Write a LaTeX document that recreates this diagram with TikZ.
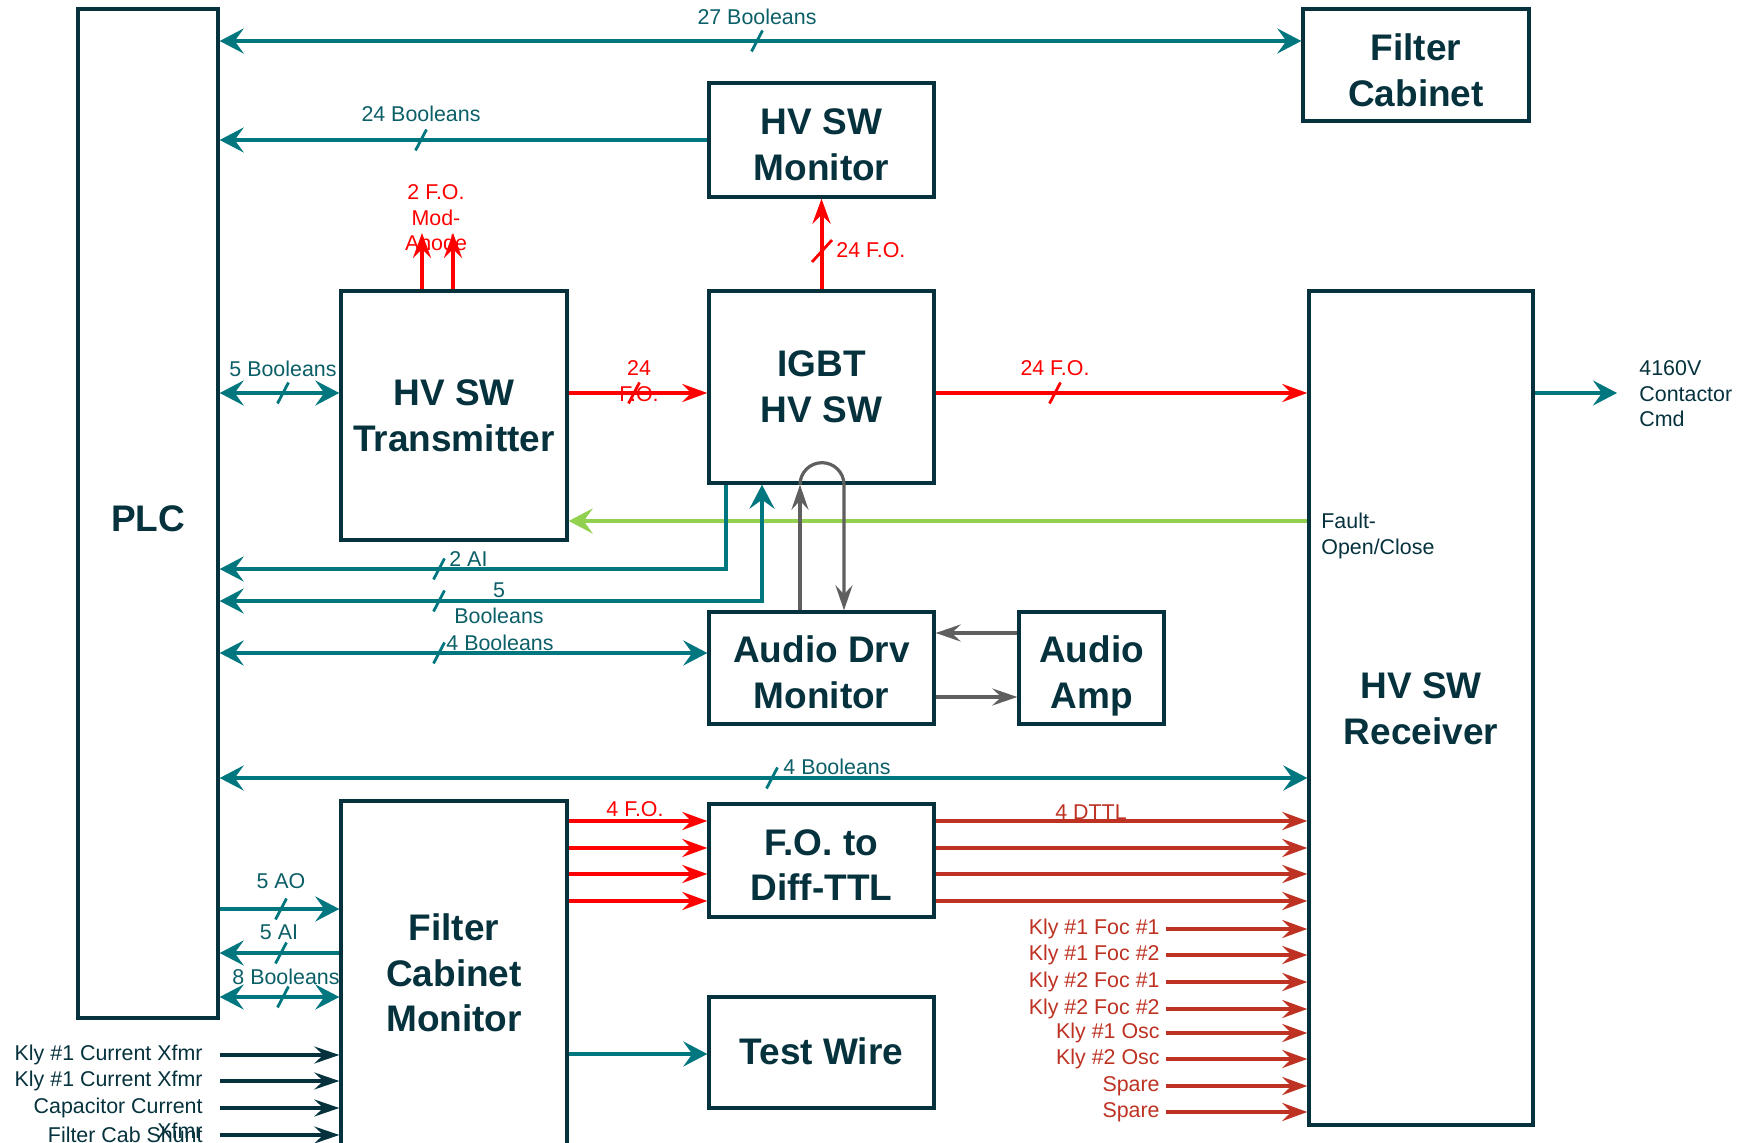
\documentclass[tikz,border=0pt]{standalone}
\usepackage{fontspec}
\setmainfont{Liberation Sans}
\usetikzlibrary{arrows.meta,calc}
\definecolor{navy}{HTML}{06323D}
\definecolor{tealc}{HTML}{00777F}
\definecolor{tealtxt}{HTML}{0B5F67}
\definecolor{fored}{HTML}{FF0000}
\definecolor{dred}{HTML}{BE3223}
\definecolor{lgreen}{HTML}{92D050}
\definecolor{greyc}{HTML}{5F5F5F}
\begin{document}
\begin{tikzpicture}[x=0.5pt,y=-0.5pt,
  box/.style={draw=navy, line width=1.7pt, inner sep=0pt},
  ttl/.style={text=navy, font=\bfseries\fontsize{18.5}{22.8}\selectfont, align=center, inner sep=0pt},
  lbl/.style={font=\fontsize{10.7}{12.8}\selectfont, inner sep=0pt, align=center},
  tl/.style={lbl, text=tealtxt},
  rl/.style={lbl, text=fored},
  dl/.style={lbl, text=dred},
  nl/.style={lbl, text=navy},
  ttip/.tip={Stealth[length=12pt,width=12.5pt,inset=4.5pt]},
  tline/.style={draw=tealc, line width=1.6pt},
  tarr/.style={tline, -ttip},
  tboth/.style={tline, ttip-ttip},
  rarr/.style={draw=fored, line width=2pt, -{Stealth[length=12.5pt,width=9pt,inset=4.5pt]}},
  darr/.style={draw=dred, line width=1.9pt, -{Stealth[length=12.5pt,width=9pt,inset=4.5pt]}},
  garr/.style={draw=greyc, line width=1.6pt, -{Stealth[length=12.5pt,width=8.5pt,inset=4.5pt]}},
  narr/.style={draw=navy, line width=1.6pt, -{Stealth[length=12.5pt,width=8.5pt,inset=4.5pt]}},
  grarr/.style={draw=lgreen, line width=1.7pt, -{Stealth[length=12pt,width=12.5pt,inset=4.5pt]}},
  slashT/.style={draw=tealc, line width=1.4pt},
  slashR/.style={draw=fored, line width=1.4pt}
]
\useasboundingbox (0,0) rectangle (1742,1143);
\clip (0,0) rectangle (1742,1143);
\fill[white] (0,0) rectangle (1742,1143);

% ---------- boxes ----------
\node[box, minimum width=70pt, minimum height=504.5pt] (plc) at (148,513.5) {};
\node[box, minimum width=113pt, minimum height=56pt] (fcab) at (1416,65) {};
\node[box, minimum width=112.5pt, minimum height=57pt] (hvmon) at (821.5,140) {};
\node[box, minimum width=113pt, minimum height=124.5pt] (tx) at (454,415.5) {};
\node[box, minimum width=112.5pt, minimum height=96pt] (igbt) at (821.5,387) {};
\node[box, minimum width=112pt, minimum height=417pt] (rx) at (1421,708) {};
\node[box, minimum width=112.5pt, minimum height=56pt] (adm) at (821.5,668) {};
\node[box, minimum width=72.5pt, minimum height=56pt] (amp) at (1091.5,668) {};
\node[box, minimum width=112.5pt, minimum height=56.5pt] (fo) at (821.5,860.5) {};
\node[box, minimum width=112.5pt, minimum height=55.5pt] (tw) at (821.5,1052.5) {};
\node[box, minimum width=113pt, minimum height=175pt] (fcm) at (454,976) {};

% ---------- box titles ----------
\node[ttl] (plct) at ($(plc)+(0,5.5)$) {PLC};
\node[ttl] (fcabt) at ($(fcab)+(0,5)$) {Filter\\Cabinet};
\node[ttl] (hvmont) at ($(hvmon)+(0,4.5)$) {HV SW\\Monitor};
\node[ttl] (txt) at ($(tx)+(0,0)$) {HV SW\\Transmitter};
\node[ttl] (igbtt) at ($(igbt)+(0,0)$) {IGBT\\HV SW};
\node[ttl] (rxt) at ($(rx)+(0,1)$) {HV SW\\Receiver};
\node[ttl] (admt) at ($(adm)+(0,4.5)$) {Audio Drv\\Monitor};
\node[ttl] (ampt) at ($(amp)+(0,8)$) {Audio\\Amp};
\node[ttl] (fot) at ($(fo)+(0,4.5)$) {F.O. to\\Diff-TTL};
\node[ttl] (twt) at ($(tw)+(0,-1)$) {Test Wire};
\node[ttl] (fcmt) at ($(fcm)+(0,-3)$) {Filter\\Cabinet\\Monitor};

% ---------- helper coordinates ----------
\coordinate (Y41) at (0,41);
\coordinate (Y393) at (0,393);
\coordinate (Y521) at (0,521);
\coordinate (Y569) at (0,569);
\coordinate (Y601) at (0,601);
\coordinate (Y653) at (0,653);
\coordinate (Y633) at (0,633);
\coordinate (Y697) at (0,697);
\coordinate (Y778) at (0,778);
\coordinate (Y909) at (0,909);
\coordinate (Y953) at (0,953);
\coordinate (Y997) at (0,997);
\coordinate (Y1054) at (0,1054);
\coordinate (X726) at (726,0);
\coordinate (X762) at (762,0);
\coordinate (X800) at (800,0);
\coordinate (X844) at (844,0);
\coordinate (m1) at (422,233);
\coordinate (m2) at (453,233);
\coordinate (c4160) at (1617,393);

% ---------- labels ----------
\node[tl] (l27) at (757,17) {27 Booleans};
\node[tl] (l24b) at (421,114) {24 Booleans};
\node[rl] (lmod) at (436,218) {2 F.O.\\Mod-\\Anode};
\node[rl, anchor=west] (l24v) at (836,250) {24 F.O.};
\node[tl] (l5tx) at (283,369) {5 Booleans};
\node[rl] (l24tx) at (639,381) {24\\F.O.};
\node[rl] (l24rx) at (1055,368) {24 F.O.};
\node[nl, anchor=west, align=left] (l4160) at (1639,394) {4160V\\Contactor\\Cmd};
\node[nl, anchor=west, align=left] (lfault) at (1321,536) {Fault-\\Open/Close};
\node[tl, anchor=west] (l2ai) at (449,559) {2 AI};
\node[tl] (l5b) at (499,603) {5\\Booleans};
\node[tl] (l4b) at (500,643) {4 Booleans};
\node[tl] (l4b2) at (837,767) {4 Booleans};
\node[rl] (l4fo) at (635,809) {4 F.O.};
\node[dl] (l4dttl) at (1091,812) {4 DTTL};
\node[tl] (l5ao) at (281,881) {5 AO};
\node[tl] (l5ai) at (279,932) {5 AI};
\node[tl] (l8b) at (286,977) {8 Booleans};

% ---------- connectors ----------
\draw[grarr] (rx.west |- Y521) -- (tx.east |- Y521);

\draw[tboth] (plc.east |- Y41) -- (fcab.west |- Y41);
\draw[slashT] (757,41) ++(-5.5,10.5) -- ++(11,-21);

\draw[tarr] (hvmon.west) -- (hvmon.west -| plc.east);
\draw[slashT] (421,140) ++(-5.5,10.5) -- ++(11,-21);

\draw[rarr] (tx.north -| m1) -- (m1);
\draw[rarr] (tx.north -| m2) -- (m2);

\draw[rarr] (igbt.north) -- (hvmon.south);
\draw[slashR] (822,251) ++(-10,11) -- ++(20,-22);

\draw[tboth] (plc.east |- Y393) -- (tx.west |- Y393);
\draw[slashT] (283,393) ++(-5.5,10.5) -- ++(11,-21);

\draw[rarr] (tx.east |- Y393) -- (igbt.west |- Y393);
\draw[slashR] (634,393) ++(-5.5,10.5) -- ++(11,-21);

\draw[rarr] (igbt.east |- Y393) -- (rx.west |- Y393);
\draw[slashR] (1055,393) ++(-5.5,10.5) -- ++(11,-21);

\draw[tarr] (rx.east |- Y393) -- (c4160);

\draw[tarr] (igbt.south -| X726) |- (plc.east |- Y569);
\draw[slashT] (439,569) ++(-5.5,10.5) -- ++(11,-21);

\draw[tboth] (plc.east |- Y601) -| (igbt.south -| X762);
\draw[slashT] (439,601) ++(-5.5,10.5) -- ++(11,-21);

\draw[tboth] (plc.east |- Y653) -- (adm.west |- Y653);
\draw[slashT] (439,653) ++(-5.5,10.5) -- ++(11,-21);

\draw[garr] (adm.north -| X800) -- (igbt.south -| X800);
\draw[garr] (igbt.south -| X800) arc[start angle=180, end angle=360, radius=22] -- (adm.north -| X844);

\draw[garr] (amp.west |- Y633) -- (adm.east |- Y633);
\draw[garr] (adm.east |- Y697) -- (amp.west |- Y697);

\draw[tboth] (plc.east |- Y778) -- (rx.west |- Y778);
\draw[slashT] (772,778) ++(-5.5,10.5) -- ++(11,-21);

\foreach \yy [count=\i] in {821,848,874,901} {
  \coordinate (fy\i) at (0,\yy);
  \draw[rarr] (fcm.east |- fy\i) -- (fo.west |- fy\i);
  \draw[darr] (fo.east |- fy\i) -- (rx.west |- fy\i);
}

% Kly signals
\node[dl, anchor=east] (k1l) at (1160,929) {Kly \#1 Foc \#1};
\node[dl, anchor=east] (k2l) at (1160,955) {Kly \#1 Foc \#2};
\node[dl, anchor=east] (k3l) at (1160,982) {Kly \#2 Foc \#1};
\node[dl, anchor=east] (k4l) at (1160,1009) {Kly \#2 Foc \#2};
\node[dl, anchor=east] (k5l) at (1160,1033) {Kly \#1 Osc};
\node[dl, anchor=east] (k6l) at (1160,1059) {Kly \#2 Osc};
\node[dl, anchor=east] (k7l) at (1160,1086) {Spare};
\node[dl, anchor=east] (k8l) at (1160,1112) {Spare};
\foreach \yy [count=\i] in {929,955,982,1009,1033,1059,1086,1112} {
  \coordinate (k\i) at (1166,\yy);
  \draw[darr] (k\i) -- (k\i -| rx.west);
}

\draw[tarr] (plc.east |- Y909) -- (fcm.west |- Y909);
\draw[slashT] (281,909) ++(-5.5,10.5) -- ++(11,-21);
\draw[tarr] (fcm.west |- Y953) -- (plc.east |- Y953);
\draw[slashT] (281,953) ++(-5.5,10.5) -- ++(11,-21);
\draw[tboth] (plc.east |- Y997) -- (fcm.west |- Y997);
\draw[slashT] (283,997) ++(-5.5,10.5) -- ++(11,-21);

\draw[tarr] (fcm.east |- Y1054) -- (tw.west |- Y1054);

% current inputs
\node[nl, anchor=east] (c1l) at (203,1055) {Kly \#1 Current Xfmr};
\node[nl, anchor=east] (c2l) at (203,1081) {Kly \#1 Current Xfmr};
\node[nl, anchor=east] (c3l) at (203,1108) {Capacitor Current};
\node[nl, anchor=east] (c4l) at (203,1135) {Filter Cab Shunt};
\node[nl, anchor=east] (c5l) at (203,1131) {Xfmr};
\foreach \yy [count=\i] in {1055,1081,1108,1135} {
  \coordinate (n\i) at (220,\yy);
  \draw[narr] (n\i) -- (n\i -| fcm.west);
}
\end{tikzpicture}
\end{document}
